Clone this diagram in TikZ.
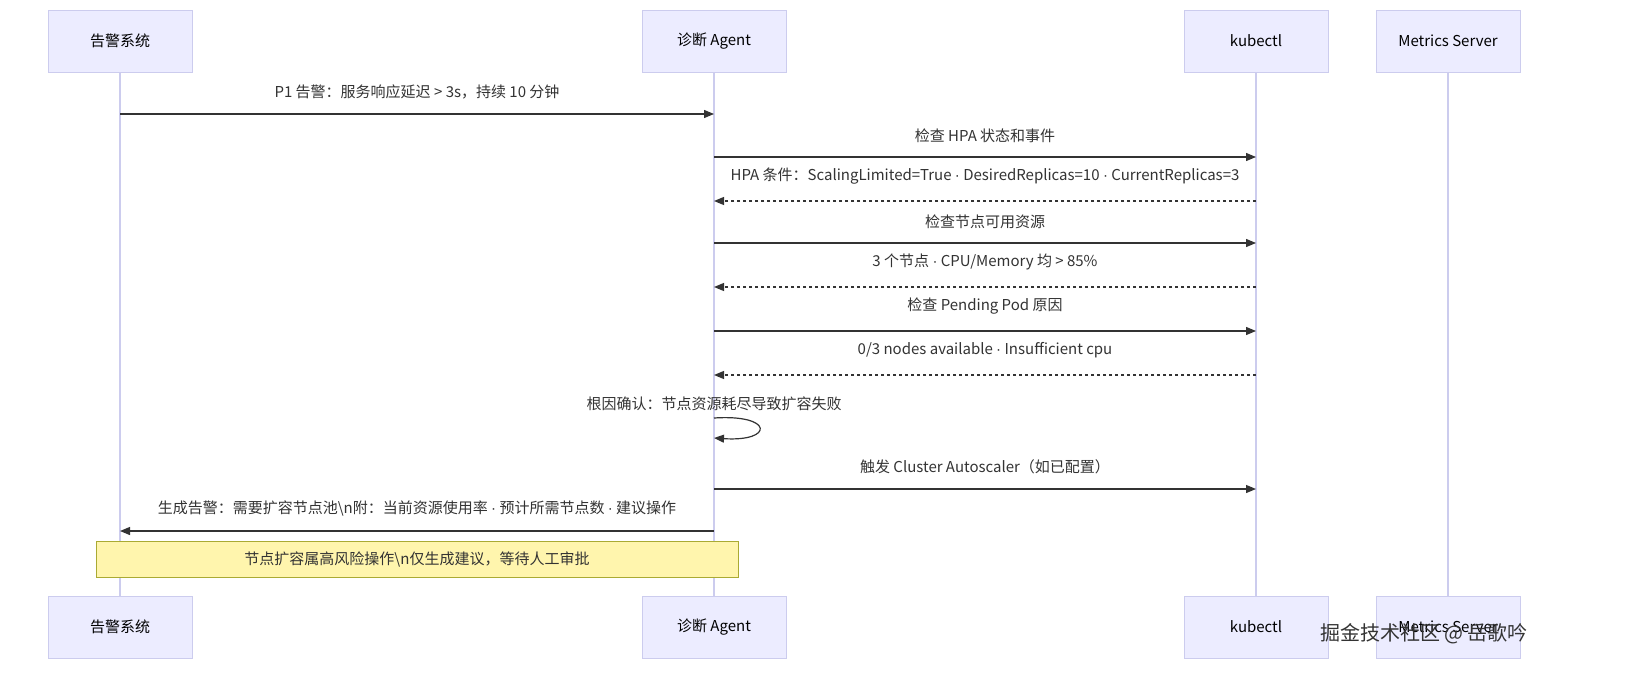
\documentclass[tikz,border=0pt]{standalone}
\usepackage{fontspec}
\setmainfont{Noto Sans CJK SC}
\newfontfamily\latfont{Liberation Sans}
\newcommand{\md}{{\latfont ·}}
\usetikzlibrary{arrows.meta}
\definecolor{actfill}{HTML}{ECECFF}
\definecolor{actline}{HTML}{CCCCEE}
\definecolor{notefill}{HTML}{FFF5AD}
\definecolor{noteline}{HTML}{AAAA33}
\definecolor{msgline}{HTML}{333333}
\tikzset{
  actor/.style={draw=actline, fill=actfill, minimum width=72pt, minimum height=31pt, font=\fontsize{7.5}{9}\selectfont, inner sep=0pt},
  lifeline/.style={draw=actline, line width=0.6pt},
  msg/.style={draw=msgline, line width=0.6pt, -{Triangle[length=5pt,width=4pt]}},
  reply/.style={msg, dash pattern=on 1.5pt off 1.5pt},
  msglabel/.style={font=\fontsize{7.5}{9}\selectfont, text=msgline, inner sep=0pt}
}
\begin{document}
\begin{tikzpicture}[x=0.5pt,y=-0.5pt]
  \fill[white] (0,0) rectangle (1632,696);

  %% participants
  \foreach \n/\x/\t in {alarm/120/告警系统, agent/714/诊断 Agent, kctl/1256/kubectl, metr/1448/Metrics Server}{
    \draw[lifeline] (\x,72) -- (\x,596);
    \node[actor] (\n top) at (\x,41) {\t};
    \node[actor] (\n bot) at (\x,627) {\t};
  }

  %% message anchors
  \foreach \y in {114,157,201,243,287,331,375,418,438,489,531}{
    \coordinate (alarm\y) at (120,\y);
    \coordinate (agent\y) at (714,\y);
    \coordinate (kctl\y) at (1256,\y);
  }

  %% messages
  \draw[msg] (alarm114) -- node[msglabel, above=7pt] {P1 告警：服务响应延迟 > 3s，持续 10 分钟} (agent114);
  \draw[msg] (agent157) -- node[msglabel, above=7pt] {检查 HPA 状态和事件} (kctl157);
  \draw[reply] (kctl201) -- node[msglabel, above=8pt] {HPA 条件：ScalingLimited=True \md{} DesiredReplicas=10 \md{} CurrentReplicas=3} (agent201);
  \draw[msg] (agent243) -- node[msglabel, above=7pt] {检查节点可用资源} (kctl243);
  \draw[reply] (kctl287) -- node[msglabel, above=8pt] {3 个节点 \md{} CPU/Memory 均 > 85\%} (agent287);
  \draw[msg] (agent331) -- node[msglabel, above=8pt] {检查 Pending Pod 原因} (kctl331);
  \draw[reply] (kctl375) -- node[msglabel, above=8pt] {0/3 nodes available \md{} Insufficient cpu} (agent375);
  \node[msglabel] (rootcause) at (714,404) {根因确认：节点资源耗尽导致扩容失败};
  \draw[msg] (agent418) .. controls (774,414) and (774,442) .. (agent438);
  \draw[msg] (agent489) -- node[msglabel, above=7pt] {触发 Cluster Autoscaler（如已配置）} (kctl489);
  \draw[msg] (agent531) -- node[msglabel, above=7pt] {生成告警：需要扩容节点池\textbackslash n附：当前资源使用率 \md{} 预计所需节点数 \md{} 建议操作} (alarm531);

  %% note
  \node[draw=noteline, fill=notefill, minimum width=321pt, minimum height=18pt, inner sep=0pt, font=\fontsize{7.5}{9}\selectfont, text=msgline] (note) at (417,559) {节点扩容属高风险操作\textbackslash n仅生成建议，等待人工审批};

  %% watermark
  \node[font=\fontsize{10}{12}\selectfont, text=msgline, inner sep=0pt] (mark) at (1424,634) {掘金技术社区 @ 岳歌吟};

  \pgfresetboundingbox
  \useasboundingbox (0,0) rectangle (1632,696);
\end{tikzpicture}
\end{document}
